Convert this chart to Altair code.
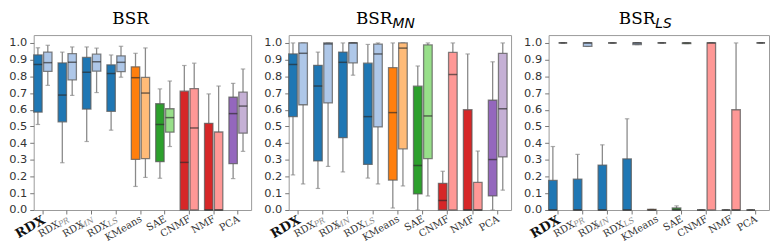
import altair as alt
import pandas as pd

categories = ["RDX", "RDX_PR", "RDX_MN", "RDX_LS", "KMeans", "SAE", "CNMF", "NMF", "PCA"]
families = ["blue", "blue", "blue", "blue", "orange", "green", "red", "red", "purple"]
series = ["base", "variant"]

# label pieces: main text, subscript, kind
label_main = ["RDX", "RDX", "RDX", "RDX", "KMeans", "SAE", "CNMF", "NMF", "PCA"]
label_sub = ["", "PR", "MN", "LS", "", "", "", "", ""]
label_kind = ["bold", "sub", "sub", "sub", "plain", "plain", "plain", "plain", "plain"]

# five-number summaries per category: [low whisker, q1, median, q3, high whisker]
bsr_base = [
    [0.512, 0.586, 0.871, 0.928, 0.971],
    [0.283, 0.528, 0.688, 0.880, 0.945],
    [0.410, 0.604, 0.825, 0.913, 0.976],
    [0.478, 0.591, 0.817, 0.869, 0.928],
    [0.141, 0.303, 0.792, 0.857, 0.938],
    [0.190, 0.289, 0.512, 0.636, 0.725],
    [0.000, 0.000, 0.285, 0.711, 0.865],
    [0.000, 0.000, 0.000, 0.519, 0.695],
    [0.188, 0.277, 0.577, 0.675, 0.758],
]
bsr_variant = [
    [0.746, 0.830, 0.882, 0.945, 0.986],
    [0.686, 0.779, 0.884, 0.936, 0.976],
    [0.703, 0.831, 0.887, 0.933, 0.969],
    [0.795, 0.828, 0.884, 0.922, 0.980],
    [0.195, 0.307, 0.700, 0.794, 0.970],
    [0.380, 0.466, 0.553, 0.606, 0.772],
    [0.000, 0.000, 0.491, 0.727, 0.879],
    [0.000, 0.000, 0.000, 0.467, 0.742],
    [0.351, 0.460, 0.622, 0.705, 0.844],
]
mn_base = [
    [0.210, 0.559, 0.871, 0.934, 1.000],
    [0.129, 0.294, 0.742, 0.866, 0.945],
    [0.228, 0.433, 0.884, 0.945, 1.000],
    [0.191, 0.273, 0.559, 0.879, 0.991],
    [0.012, 0.179, 0.583, 0.852, 1.000],
    [0.000, 0.096, 0.267, 0.741, 0.862],
    [0.000, 0.000, 0.057, 0.160, 0.232],
    [0.000, 0.000, 0.000, 0.600, 0.934],
    [0.000, 0.084, 0.302, 0.657, 0.887],
]
mn_variant = [
    [0.156, 0.630, 0.938, 1.000, 1.000],
    [0.261, 0.641, 0.994, 1.000, 1.000],
    [0.807, 0.881, 1.000, 1.000, 1.000],
    [0.156, 0.497, 0.934, 0.993, 1.000],
    [0.144, 0.366, 0.969, 1.000, 1.000],
    [0.084, 0.308, 0.563, 0.988, 1.000],
    [0.000, 0.000, 0.811, 0.943, 1.000],
    [0.000, 0.000, 0.000, 0.166, 0.353],
    [0.119, 0.318, 0.606, 0.938, 1.000],
]
ls_base = [
    [0.000, 0.000, 0.000, 0.177, 0.380],
    [0.000, 0.000, 0.000, 0.185, 0.333],
    [0.000, 0.000, 0.000, 0.269, 0.390],
    [0.000, 0.000, 0.000, 0.306, 0.546],
    [0.000, 0.000, 0.000, 0.004, 0.004],
    [0.000, 0.000, 0.000, 0.012, 0.025],
    [0.000, 0.000, 0.000, 0.000, 0.000],
    [0.000, 0.000, 0.000, 0.000, 0.000],
    [0.000, 0.000, 0.000, 0.000, 0.000],
]
ls_variant = [
    [1.000, 1.000, 1.000, 1.000, 1.000],
    [0.979, 0.979, 1.000, 1.000, 1.000],
    [1.000, 1.000, 1.000, 1.000, 1.000],
    [0.990, 0.990, 1.000, 1.000, 1.000],
    [1.000, 1.000, 1.000, 1.000, 1.000],
    [0.996, 0.996, 1.000, 1.000, 1.000],
    [0.000, 0.000, 1.000, 1.000, 1.000],
    [0.000, 0.000, 0.000, 0.600, 1.000],
    [1.000, 1.000, 1.000, 1.000, 1.000],
]

y_ticks = [0.0, 0.1, 0.2, 0.3, 0.4, 0.5, 0.6, 0.7, 0.8, 0.9, 1.0]

color_keys = ["blue-base", "blue-variant", "orange-base", "orange-variant",
              "green-base", "green-variant", "red-base", "red-variant",
              "purple-base", "purple-variant"]
color_vals = ["#1f77b4", "#aec7e8", "#ff7f0e", "#ffbb78",
              "#2ca02c", "#98df8a", "#d62728", "#ff9896",
              "#9467bd", "#c5b0d5"]

H = 177


def make_df(base_stats, var_stats):
    rows = []
    for s, stats in zip(series, [base_stats, var_stats]):
        for c, f, v in zip(categories, families, stats):
            rows.append(dict(category=c, series=s, key=f + "-" + s,
                             lo=v[0], q1=v[1], med=v[2], q3=v[3], hi=v[4]))
    return pd.DataFrame(rows)


labels_df = pd.DataFrame(dict(category=categories, main=label_main,
                              sub=label_sub, kind=label_kind))


def panel(df, width, t_main, t_sub, t_x):
    x = alt.X("category:N", sort=categories, title=None,
              scale=alt.Scale(paddingInner=0.25, paddingOuter=0.08, align=0.0),
              axis=alt.Axis(labels=False, ticks=True, tickSize=4, domain=False,
                            tickColor="#777", grid=False))
    xo = alt.XOffset("series:N", sort=series,
                     scale=alt.Scale(paddingInner=0.15, paddingOuter=0))
    ysc = alt.Scale(domain=[0, 1.047], nice=False, zero=False)
    yax = alt.Axis(values=y_ticks, tickCount=11, format=".1f", grid=False, domain=False,
                   tickColor="#777", tickSize=4, labelPadding=3, labelOverlap=False,
                   labelFontSize=11.5, labelColor="#333", labelFont="DejaVu Sans")

    def Y(field):
        return alt.Y(field, scale=ysc, axis=yax, title=None)

    base = alt.Chart(df)
    wl = base.mark_rule(color="#8a8a8a", strokeWidth=1.3).encode(
        x=x, xOffset=xo, y=Y("lo:Q"), y2="q1:Q")
    wh = base.mark_rule(color="#8a8a8a", strokeWidth=1.3).encode(
        x=x, xOffset=xo, y=Y("q3:Q"), y2="hi:Q")
    cl = base.mark_tick(color="#8a8a8a", size=4.5, thickness=1.2).encode(
        x=x, xOffset=xo, y=Y("lo:Q"))
    ch = base.mark_tick(color="#8a8a8a", size=4.5, thickness=1.2).encode(
        x=x, xOffset=xo, y=Y("hi:Q"))
    box = base.mark_bar(stroke="#5a5a5a", strokeOpacity=0.75, strokeWidth=1.3).encode(
        x=x, xOffset=xo, y=Y("q1:Q"), y2="q3:Q",
        color=alt.Color("key:N", scale=alt.Scale(domain=color_keys, range=color_vals),
                        legend=None))
    med = base.mark_tick(color="#2a2a2a", opacity=0.65, size=8.6, thickness=1.5).encode(
        x=x, xOffset=xo, y=Y("med:Q"))

    lab = alt.Chart(labels_df)
    ly = alt.value(H + 3)
    l_bold = lab.transform_filter("datum.kind == 'bold'").mark_text(
        angle=330, align="right", baseline="top", font="DejaVu Serif", dx=-2,
        fontSize=13, fontWeight="bold", color="#111").encode(x=x, y=ly, text="main:N")
    l_plain = lab.transform_filter("datum.kind == 'plain'").mark_text(
        angle=330, align="right", baseline="top", font="DejaVu Serif", dx=-2,
        fontSize=10, color="#333").encode(x=x, y=ly, text="main:N")
    l_main = lab.transform_filter("datum.kind == 'sub'").mark_text(
        angle=330, align="right", baseline="top", font="DejaVu Serif",
        fontSize=10, color="#333", dx=-13).encode(x=x, y=ly, text="main:N")
    l_sub = lab.transform_filter("datum.kind == 'sub'").mark_text(
        angle=330, align="right", baseline="top", font="DejaVu Serif", dx=-2,
        fontSize=8, fontStyle="italic", color="#8a8a8a", dy=3).encode(
        x=x, y=ly, text="sub:N")

    tdf = pd.DataFrame(dict(main=[t_main], sub=[t_sub]))
    tc = alt.Chart(tdf)
    layers = [wl, wh, cl, ch, box, med, l_bold, l_plain, l_main, l_sub]
    if t_sub:
        layers.append(tc.mark_text(align="right", baseline="alphabetic",
                                   font="DejaVu Serif", fontSize=17, color="#000").encode(
            x=alt.value(t_x), y=alt.value(-11), text="main:N"))
        layers.append(tc.mark_text(align="left", baseline="alphabetic",
                                   font="DejaVu Sans", fontStyle="italic",
                                   fontSize=14, color="#000", dy=4).encode(
            x=alt.value(t_x), y=alt.value(-11), text="sub:N"))
    else:
        layers.append(tc.mark_text(align="center", baseline="alphabetic",
                                   font="DejaVu Serif", fontSize=17, color="#000").encode(
            x=alt.value(t_x), y=alt.value(-11), text="main:N"))
    return alt.layer(*layers).properties(width=width, height=H)


p1 = panel(make_df(bsr_base, bsr_variant), 220, "BSR", "", 98)
p2 = panel(make_df(mn_base, mn_variant), 225, "BSR", "MN", 105)
p3 = panel(make_df(ls_base, ls_variant), 223, "BSR", "LS", 108)

chart = alt.hconcat(p1, p2, p3, spacing=11).resolve_scale(
    x="independent", y="independent", color="independent", xOffset="independent"
).configure_view(stroke="#9a9a9a", strokeWidth=1).properties(
    padding=0, background="white")

chart.save("out.html", embed_options={"renderer": "svg", "actions": False})
